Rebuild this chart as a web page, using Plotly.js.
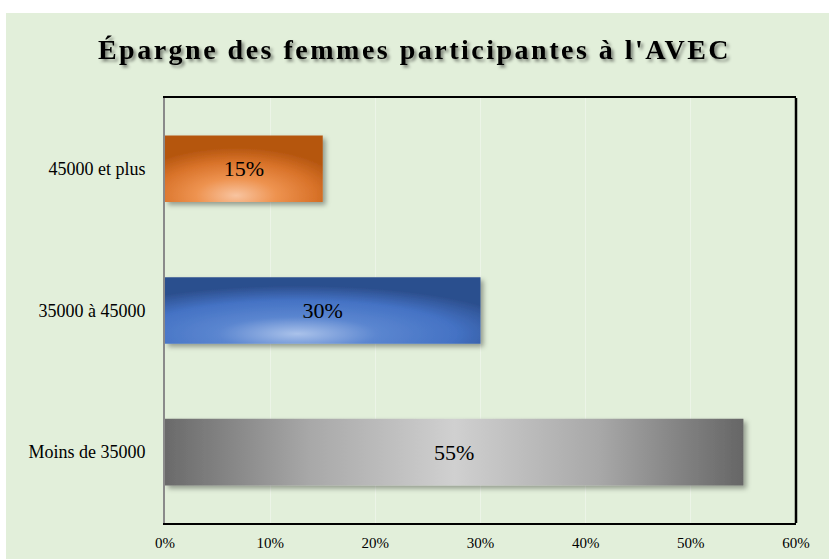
<!DOCTYPE html>
<html><head><meta charset="utf-8">
<script src="https://cdn.plot.ly/plotly-3.0.1.min.js"></script>
<style>body{margin:0;background:#fff}#chart{width:829px;height:559px}</style>
</head><body><div id="chart"></div>
<script>
// Data (bottom to top)
const categories = ['Moins de 35000', '35000 à 45000', '45000 et plus'];
const values = [55, 30, 15];
const xTicks = [0, 10, 20, 30, 40, 50, 60];
const xTickLabels = ['0%', '10%', '20%', '30%', '40%', '50%', '60%'];
const titleText = "Épargne des femmes participantes à l'AVEC";

const baseColors = ['#8c8c8c', '#3f6fc4', '#e07a2e'];
const font = '"Liberation Serif", "Times New Roman", serif';

const trace = {
  type: 'bar', orientation: 'h',
  y: categories, x: values,
  text: values.map(v => v + '%'),
  textposition: 'inside', insidetextanchor: 'middle',
  textfont: {family: font, size: 22, color: '#000'},
  marker: {color: baseColors, line: {width: 0}},
  width: 0.47, hoverinfo: 'none', cliponaxis: false
};

const layout = {
  width: 829, height: 559,
  margin: {l: 165, r: 33, t: 98, b: 36},
  paper_bgcolor: '#ffffff', plot_bgcolor: 'rgba(0,0,0,0)',
  font: {family: font, color: '#000'},
  showlegend: false,
  title: {text: titleText, font: {family: font, size: 28, weight: 'bold', color: '#000'},
          x: 0.5, xanchor: 'center', y: 1 - 49/559, yanchor: 'middle'},
  xaxis: {range: [0, 60], tickvals: xTicks, ticktext: xTickLabels,
          tickfont: {family: font, size: 15, color: '#000'},
          showline: true, linecolor: '#000', linewidth: 2, mirror: true,
          showgrid: true, gridcolor: 'rgba(255,255,255,0.35)', gridwidth: 1,
          zeroline: false, ticks: 'outside', ticklen: 5, tickcolor: 'rgba(0,0,0,0)', fixedrange: true},
  yaxis: {tickfont: {family: font, size: 18, color: '#000'},
          showline: true, linecolor: '#8a8a8a', linewidth: 2,
          ticks: 'outside', ticklen: 14, tickcolor: 'rgba(0,0,0,0)',
          showgrid: false, zeroline: false, fixedrange: true},
  shapes: [
    {type: 'rect', xref: 'paper', yref: 'paper', x0: -0.252, x1: 1.06, y0: -0.09, y1: 1.2,
     fillcolor: '#e2efda', line: {width: 0}, layer: 'below'},
    {type: 'line', xref: 'paper', yref: 'paper', x0: 1, x1: 1, y0: 0, y1: 1,
     line: {color: '#000', width: 2.5}, layer: 'above'}
  ]
};

Plotly.newPlot('chart', [trace], layout, {displayModeBar: false, staticPlot: true}).then(gd => {
  const svg = gd.querySelector('.main-svg');
  const ns = 'http://www.w3.org/2000/svg';
  const defs = svg.querySelector('defs');
  const html = `<linearGradient id="g0" x1="0%" y1="0%" x2="100%" y2="0%">
      <stop offset="0%" stop-color="#6a6a6a"/>
      <stop offset="25%" stop-color="#a8a8a8"/>
      <stop offset="50%" stop-color="#d0d0d0"/>
      <stop offset="75%" stop-color="#a8a8a8"/>
      <stop offset="100%" stop-color="#666666"/></linearGradient>
    <radialGradient id="g1" cx="42%" cy="85%" r="72%" fx="42%" fy="85%">
      <stop offset="0%" stop-color="#aac2ea"/>
      <stop offset="35%" stop-color="#5b86d0"/>
      <stop offset="70%" stop-color="#4472c4"/>
      <stop offset="100%" stop-color="#2c4f8e"/></radialGradient>
    <radialGradient id="g2" cx="45%" cy="90%" r="72%" fx="45%" fy="90%">
      <stop offset="0%" stop-color="#f8c4a0"/>
      <stop offset="35%" stop-color="#ee9350"/>
      <stop offset="70%" stop-color="#d9732a"/>
      <stop offset="100%" stop-color="#b5560f"/></radialGradient>
    <filter id="barShadow" x="-10%" y="-20%" width="130%" height="160%">
     <feDropShadow dx="3" dy="3" stdDeviation="2.5" flood-color="#000" flood-opacity="0.35"/></filter>
    <filter id="titleShadow" x="-5%" y="-30%" width="110%" height="170%">
     <feDropShadow dx="2.5" dy="2.5" stdDeviation="1.5" flood-color="#000" flood-opacity="0.45"/></filter>`;
  const tmp = document.createElementNS(ns, 'g');
  tmp.innerHTML = html;
  while (tmp.firstChild) defs.appendChild(tmp.firstChild);
  gd.querySelectorAll('.bars .point path').forEach((p, i) => {
    p.style.fill = `url(#g${i})`;
    p.setAttribute('filter', 'url(#barShadow)');
  });
  const t = gd.querySelector('.gtitle');
  if (t) { t.style.letterSpacing = '2.5px'; t.setAttribute('filter', 'url(#titleShadow)'); }
});
</script></body></html>
